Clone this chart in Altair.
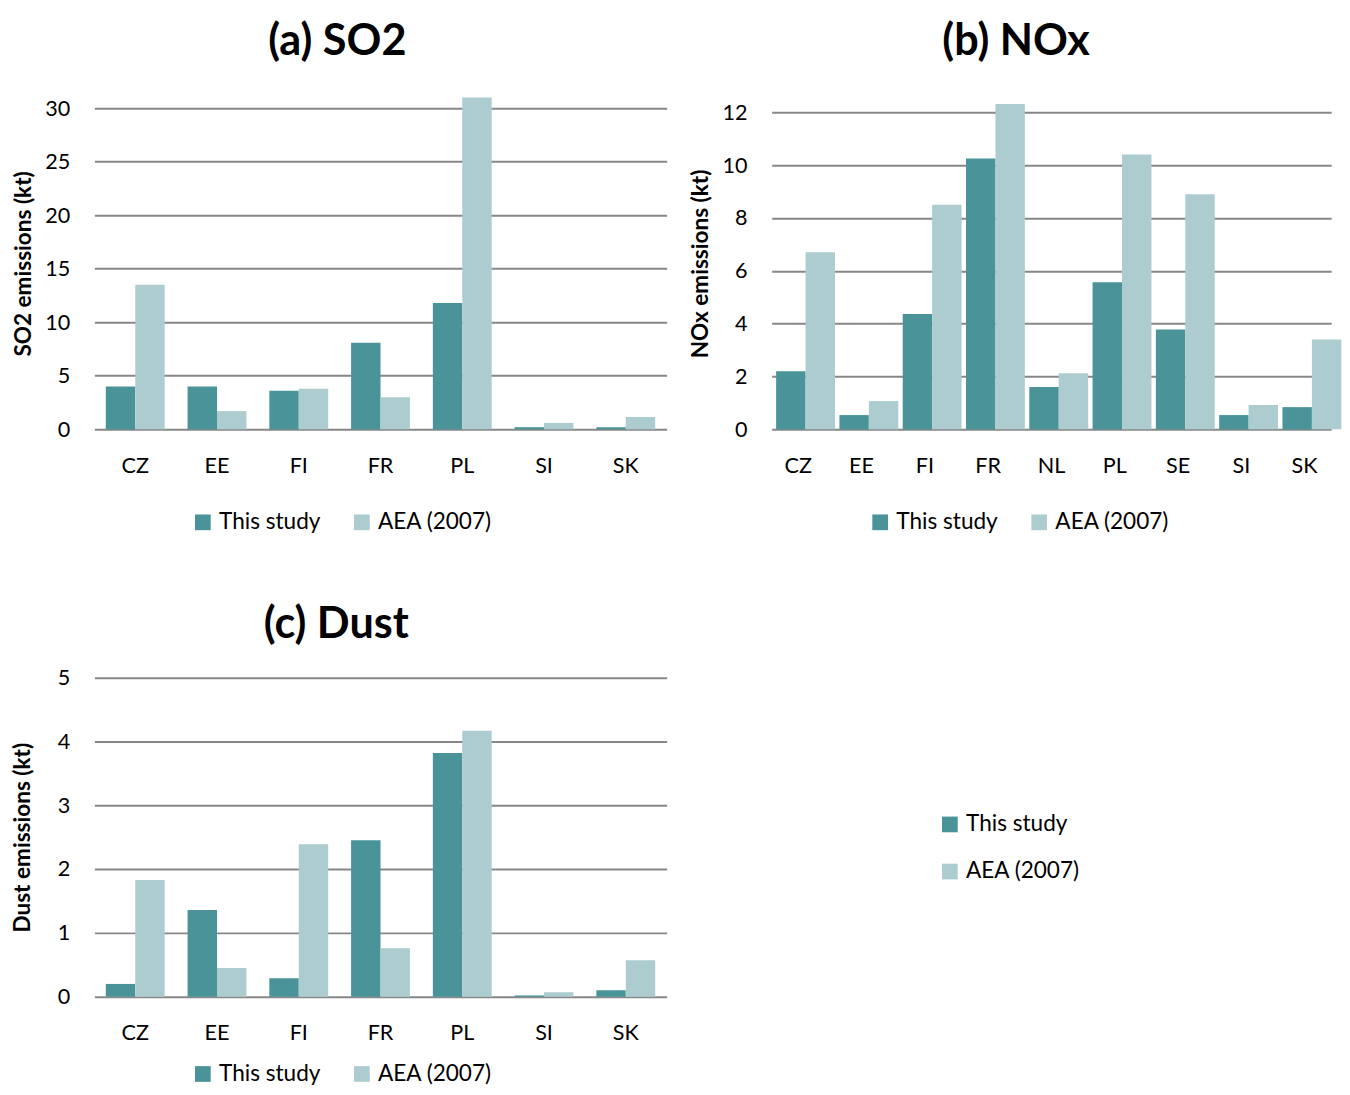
import altair as alt
import pandas as pd

SERIES = ["This study", "AEA (2007)"]
COLORS = ["#4A9399", "#ADCCCF"]

countries_so2 = ["CZ", "EE", "FI", "FR", "PL", "SI", "SK"]
so2_this = [4.0, 4.0, 3.6, 8.1, 11.8, 0.2, 0.2]
so2_aea = [13.5, 1.7, 3.8, 3.0, 31.0, 0.6, 1.15]

countries_nox = ["CZ", "EE", "FI", "FR", "NL", "PL", "SE", "SI", "SK"]
nox_this = [2.2, 0.54, 4.37, 10.25, 1.6, 5.57, 3.78, 0.54, 0.84]
nox_aea = [6.7, 1.07, 8.5, 12.32, 2.12, 10.4, 8.9, 0.92, 3.4]

countries_dust = ["CZ", "EE", "FI", "FR", "PL", "SI", "SK"]
dust_this = [0.2, 1.36, 0.29, 2.45, 3.82, 0.02, 0.1]
dust_aea = [1.83, 0.45, 2.39, 0.76, 4.17, 0.07, 0.57]

FONT = "Lato"


def long_df(cats, a, b):
    rows = []
    for c, v1, v2 in zip(cats, a, b):
        rows.append({"country": c, "series": SERIES[0], "value": v1})
        rows.append({"country": c, "series": SERIES[1], "value": v2})
    return pd.DataFrame(rows)


def panel(cats, a, b, title, ytitle, ymax, yticks, width, height,
          pin, pout, title_dx, title_offset, ytitle_pad, legend_x, legend_y):
    df = long_df(cats, a, b)
    return alt.Chart(df).mark_bar().encode(
        x=alt.X("country:N", sort=cats,
                scale=alt.Scale(paddingInner=pin, paddingOuter=pout),
                axis=alt.Axis(title=None, labelAngle=0, ticks=False, domain=False,
                              grid=False, labelFontSize=22, labelFont=FONT,
                              labelColor="black", labelPadding=27)),
        xOffset=alt.XOffset("series:N", sort=SERIES,
                            scale=alt.Scale(domain=SERIES)),
        y=alt.Y("value:Q",
                scale=alt.Scale(domain=[0, ymax], nice=False, zero=True),
                axis=alt.Axis(title=ytitle, values=yticks, ticks=False, domain=False,
                              grid=True, gridColor="#878787", gridWidth=2,
                              labelFontSize=22, labelFont=FONT, labelColor="black",
                              labelPadding=25, titleFontSize=23, titleFont=FONT,
                              titleFontWeight="bold", titleColor="black",
                              titlePadding=ytitle_pad)),
        color=alt.Color("series:N", sort=SERIES,
                        scale=alt.Scale(domain=SERIES, range=COLORS),
                        legend=alt.Legend(title=None, orient="none",
                                          legendX=legend_x, legendY=legend_y,
                                          direction="horizontal")),
    ).properties(
        width=width, height=height,
        title=alt.TitleParams(title, fontSize=44, font=FONT, fontWeight="bold",
                              color="black", anchor="middle", frame="group",
                              dx=title_dx, offset=title_offset),
    )


pa = panel(countries_so2, so2_this, so2_aea, "(a) SO2", "SO2 emissions (kt)",
           31.0, [0, 5, 10, 15, 20, 25, 30], 583, 338, 0.28, 0.14, -44, 34, 10, 99, 421)
pb = panel(countries_nox, nox_this, nox_aea, "(b) NOx", "NOx emissions (kt)",
           12.56, [0, 2, 4, 6, 8, 10, 12], 570, 338, 0.3, 0.07, -36, 34, 10, 99, 421)
pc = panel(countries_dust, dust_this, dust_aea, "(c) Dust", "Dust emissions (kt)",
           5.0, [0, 1, 2, 3, 4, 5], 583, 325, 0.28, 0.14, -45, 20, 23, 99, 392)

legend_df = pd.DataFrame({"series": SERIES})
pd_leg = alt.Chart(legend_df).mark_bar(opacity=0).encode(
    color=alt.Color("series:N", sort=SERIES,
                    scale=alt.Scale(domain=SERIES, range=COLORS),
                    legend=alt.Legend(title=None, orient="none", legendX=259,
                                      legendY=138, direction="vertical",
                                      symbolOpacity=1, rowPadding=24)),
).properties(width=600, height=325)

chart = alt.vconcat(
    alt.hconcat(pa, pb, spacing=23).resolve_scale(color="independent").resolve_legend(color="independent"),
    alt.hconcat(pc, pd_leg, spacing=18).resolve_scale(color="independent").resolve_legend(color="independent"),
    spacing=71,
).resolve_scale(color="independent").resolve_legend(color="independent").properties(
    padding={"left": 4, "top": 2, "right": 0, "bottom": 3},
).configure_view(stroke=None).configure_legend(
    labelFontSize=23, labelFont=FONT, labelColor="black", symbolType="square",
    symbolSize=256, symbolStrokeWidth=0, labelOffset=5, columnPadding=30,
).configure_bar(stroke=None)

chart.save("out.html", embed_options={"renderer": "svg", "actions": False})
